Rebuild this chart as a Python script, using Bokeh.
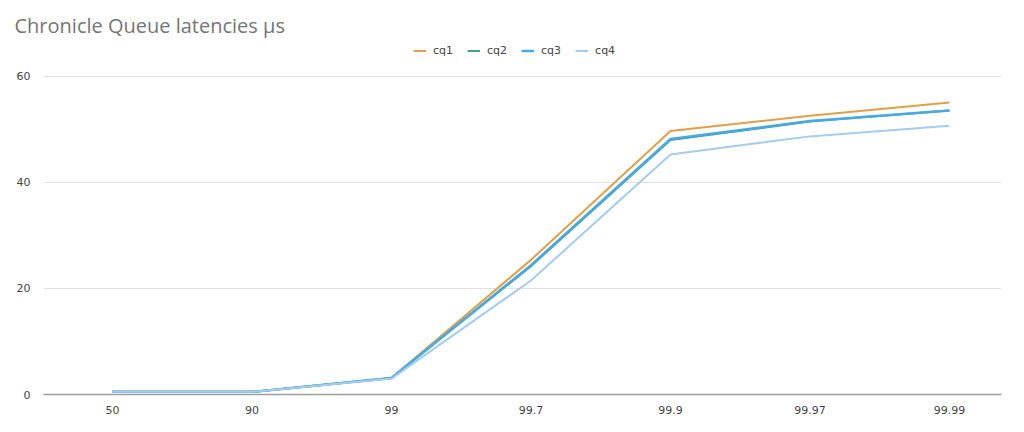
from bokeh.plotting import figure
from bokeh.models import Range1d, FixedTicker, Legend, LegendItem
from bokeh.embed import file_html
from bokeh.resources import INLINE

percentiles = ["50", "90", "99", "99.7", "99.9", "99.97", "99.99"]
cq1 = [0.5, 0.5, 3.1, 25.4, 49.7, 52.6, 55.1]
cq2 = [0.5, 0.5, 3.1, 24.2, 48.0, 51.5, 53.6]
cq3 = [0.5, 0.5, 3.1, 24.4, 48.2, 51.6, 53.6]
cq4 = [0.5, 0.5, 3.0, 21.5, 45.3, 48.7, 50.7]
y_ticks = [0, 20, 40, 60]

series = [
    ("cq1", cq1, "#e29f45", 2),
    ("cq2", cq2, "#3aa58d", 2),
    ("cq3", cq3, "#4aa9e2", 2.5),
    ("cq4", cq4, "#a3ccf0", 2),
]

xs = list(range(len(percentiles)))

p = figure(width=1016, height=424, output_backend="svg", toolbar_location=None,
           x_range=Range1d(-0.4946, 6.373), y_range=Range1d(0, 66.79),
           min_border_left=43, min_border_right=15, min_border_top=40,
           min_border_bottom=30, title="Chronicle Queue latencies µs")
p.outline_line_color = None
p.background_fill_color = "white"

p.title.text_font = "Open Sans"
p.title.text_font_size = "20px"
p.title.text_font_style = "normal"
p.title.text_color = "#757575"
p.title.align = "left"
p.title.offset = -29
p.title.standoff = 3

p.xgrid.grid_line_color = None
p.ygrid.grid_line_color = "#e0e0e0"
p.ygrid.grid_line_width = 1
p.ygrid.ticker = FixedTicker(ticks=y_ticks)

p.yaxis.ticker = FixedTicker(ticks=y_ticks)
p.yaxis.axis_line_color = None
p.yaxis.major_tick_line_color = None
p.yaxis.minor_tick_line_color = None
p.yaxis.major_label_standoff = 7
p.yaxis.major_label_text_font = "DejaVu Sans"
p.yaxis.major_label_text_font_size = "11px"
p.yaxis.major_label_text_color = "#444444"

p.xaxis.ticker = FixedTicker(ticks=xs)
p.xaxis.major_label_overrides = {i: lab for i, lab in enumerate(percentiles)}
p.xaxis.axis_line_color = "#9e9e9e"
p.xaxis.axis_line_width = 1.5
p.xaxis.major_tick_line_color = None
p.xaxis.minor_tick_line_color = None
p.xaxis.major_label_standoff = 5
p.xaxis.major_label_text_font = "DejaVu Sans"
p.xaxis.major_label_text_font_size = "11px"
p.xaxis.major_label_text_color = "#444444"

items = []
for name, vals, color, w in series:
    r = p.line(xs, vals, line_color=color, line_width=w)
    items.append(LegendItem(label=name, renderers=[r]))

legend = Legend(items=items, orientation="horizontal", location=(370, 337),
                padding=0, margin=0, spacing=14, label_standoff=7,
                glyph_width=13, glyph_height=13, label_height=13,
                label_text_font="DejaVu Sans", label_text_font_size="11px",
                label_text_color="#444444", border_line_color=None,
                background_fill_alpha=0)
p.add_layout(legend)

open("out.html", "w").write(file_html(p, INLINE))
